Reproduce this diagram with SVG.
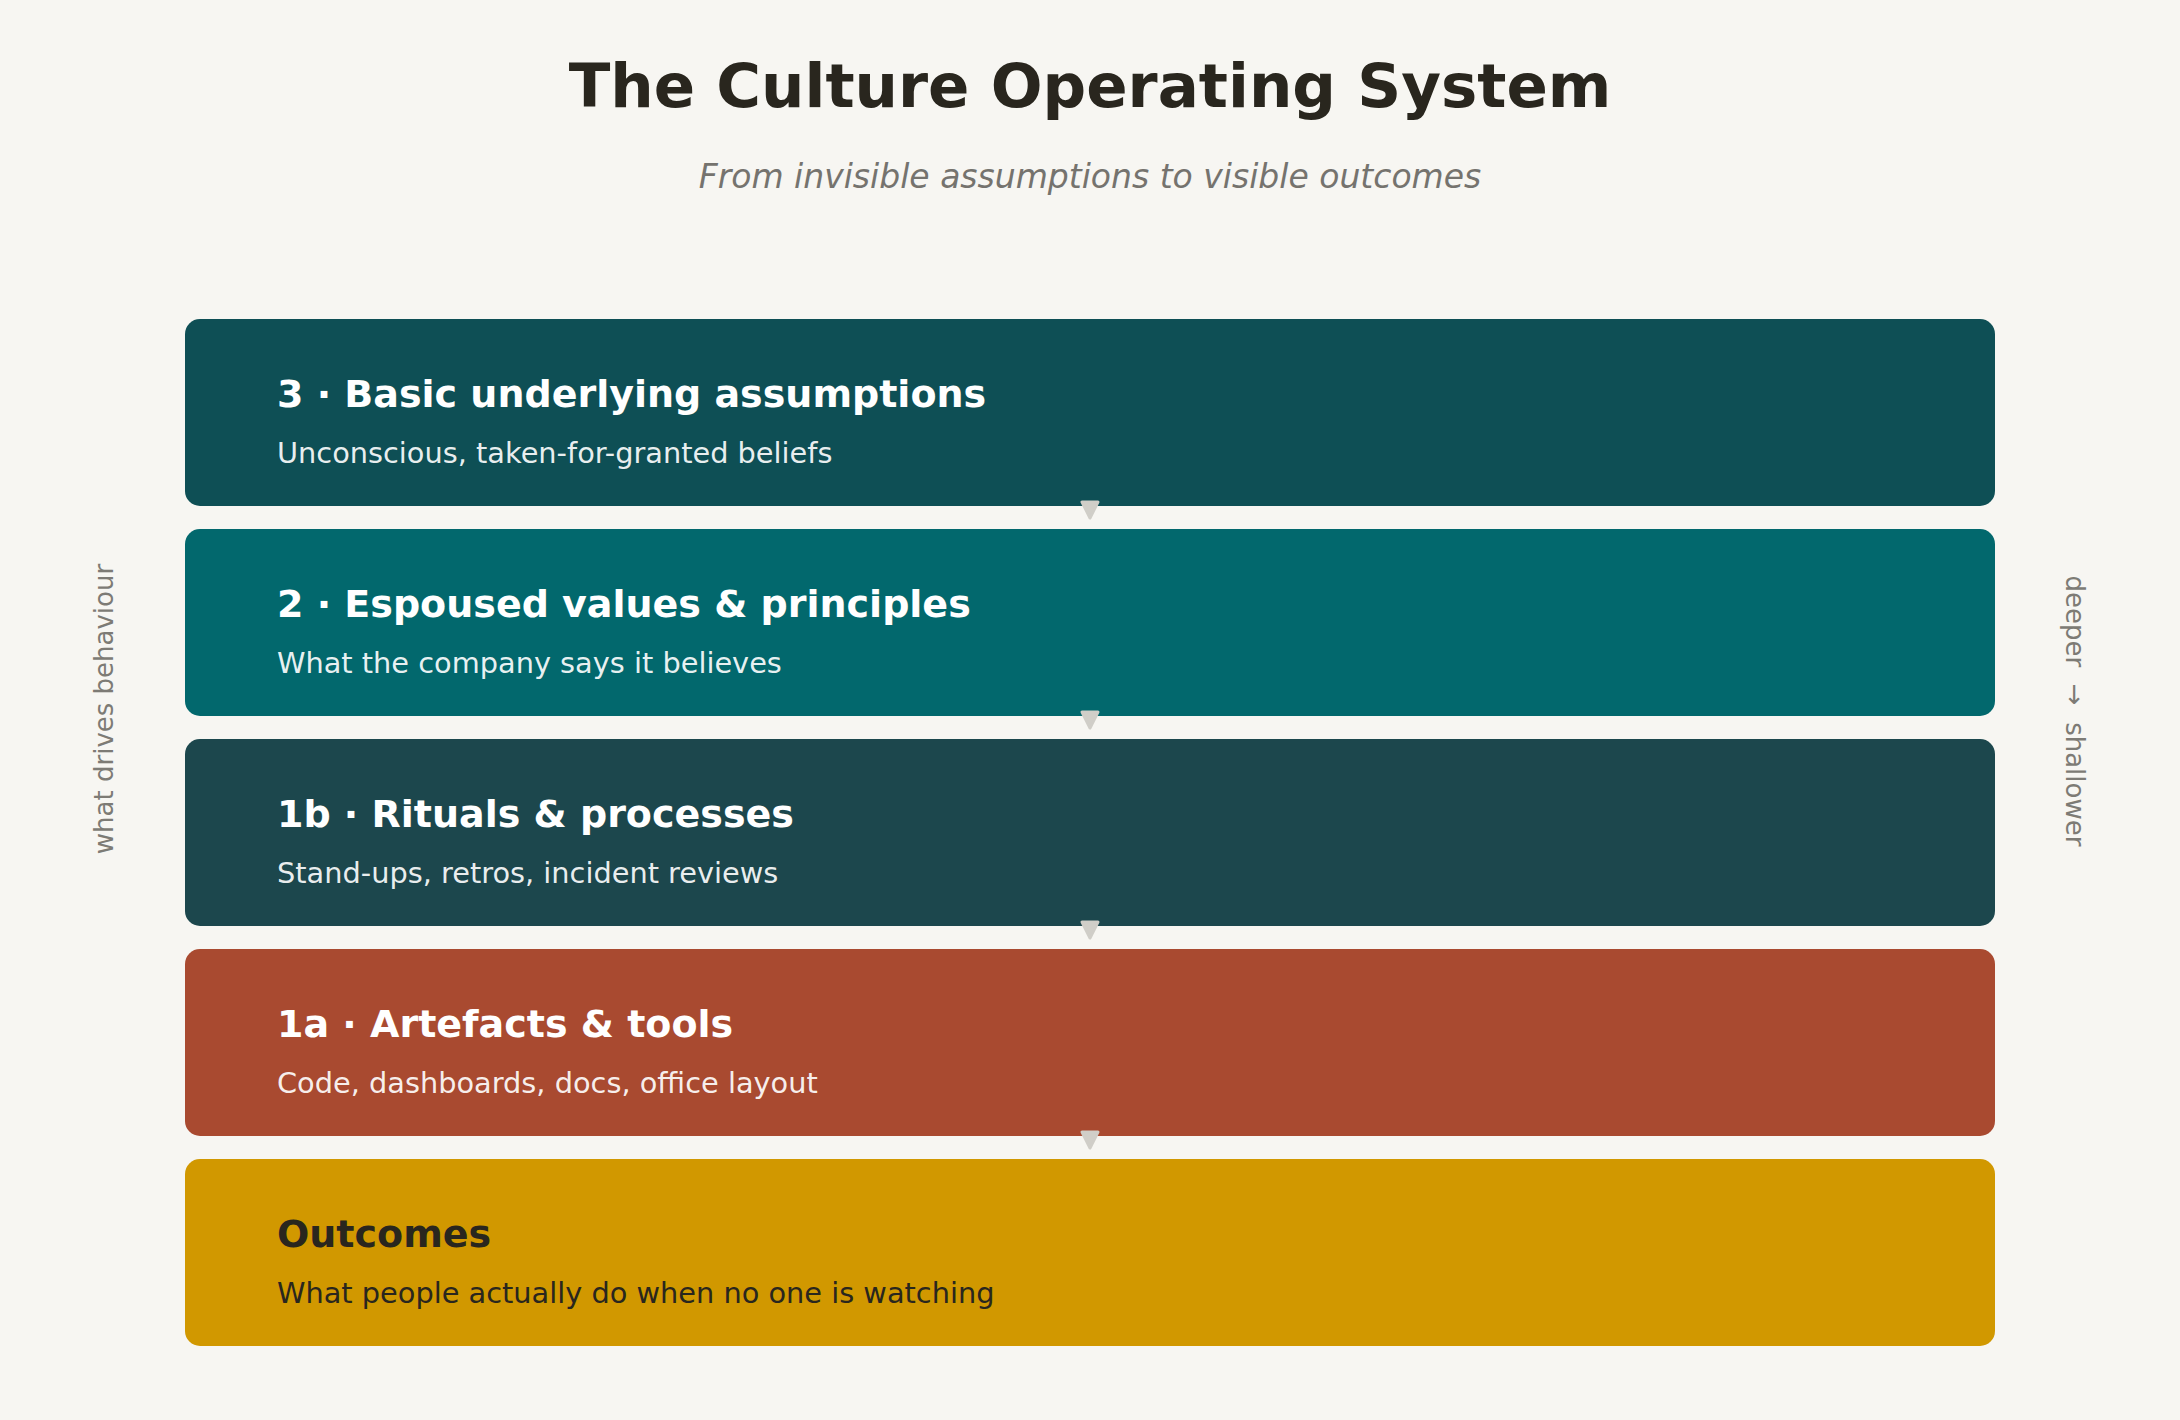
<svg xmlns="http://www.w3.org/2000/svg" width="2180" height="1420" viewBox="0 0 2180 1420">
<style>
.bg{fill:#f7f6f2}
.title{font-family:"DejaVu Sans",sans-serif;font-weight:bold;font-size:61px;fill:#29261e}
.subtitle{font-family:"DejaVu Sans",sans-serif;font-style:italic;font-size:33px;fill:#75736e}
.side{font-family:"DejaVu Sans",sans-serif;font-size:26px;fill:#7d7b75}
.lt{font-family:"DejaVu Sans",sans-serif;font-weight:bold;font-size:38px;fill:#ffffff}
.ls{font-family:"DejaVu Sans",sans-serif;font-size:28.8px;fill:#ffffff;fill-opacity:0.92}
.dark{fill:#29261e;fill-opacity:1}
.arrow{fill:#d0cec8;stroke:#d0cec8;stroke-width:3;stroke-linejoin:round}
</style>
<rect class="bg" x="0" y="0" width="2180" height="1420"/>
<text class="title" x="1090" y="107" text-anchor="middle">The Culture Operating System</text>
<text class="subtitle" x="1090" y="188" text-anchor="middle">From invisible assumptions to visible outcomes</text>
<g id="layer-3">
<rect x="185" y="319" width="1810" height="187" rx="15" fill="#0e4f55"/>
<text class="lt" x="277" y="407">3 · Basic underlying assumptions</text>
<text class="ls" x="277" y="463">Unconscious, taken-for-granted beliefs</text>
</g>
<g id="layer-2">
<rect x="185" y="529" width="1810" height="187" rx="15" fill="#02686d"/>
<text class="lt" x="277" y="617">2 · Espoused values &amp; principles</text>
<text class="ls" x="277" y="673">What the company says it believes</text>
</g>
<g id="layer-1b">
<rect x="185" y="739" width="1810" height="187" rx="15" fill="#1c474d"/>
<text class="lt" x="277" y="827">1b · Rituals &amp; processes</text>
<text class="ls" x="277" y="883">Stand-ups, retros, incident reviews</text>
</g>
<g id="layer-1a">
<rect x="185" y="949" width="1810" height="187" rx="15" fill="#a94a30"/>
<text class="lt" x="277" y="1037">1a · Artefacts &amp; tools</text>
<text class="ls" x="277" y="1093">Code, dashboards, docs, office layout</text>
</g>
<g id="outcomes">
<rect x="185" y="1159" width="1810" height="187" rx="15" fill="#d19800"/>
<text class="lt dark" x="277" y="1247">Outcomes</text>
<text class="ls dark" x="277" y="1303">What people actually do when no one is watching</text>
</g>
<g id="connectors">
<path class="arrow" d="M1082 502 L1098 502 L1090 518 Z"/>
<path class="arrow" d="M1082 712 L1098 712 L1090 728 Z"/>
<path class="arrow" d="M1082 922 L1098 922 L1090 938 Z"/>
<path class="arrow" d="M1082 1132 L1098 1132 L1090 1148 Z"/>
</g>
<g id="side-labels">
<text class="side" transform="translate(113 709) rotate(-90)" text-anchor="middle">what drives behaviour</text>
<text class="side" transform="translate(2066 711) rotate(90)" text-anchor="middle" xml:space="preserve" style="white-space:pre">deeper  →  shallower</text>
</g>
</svg>
